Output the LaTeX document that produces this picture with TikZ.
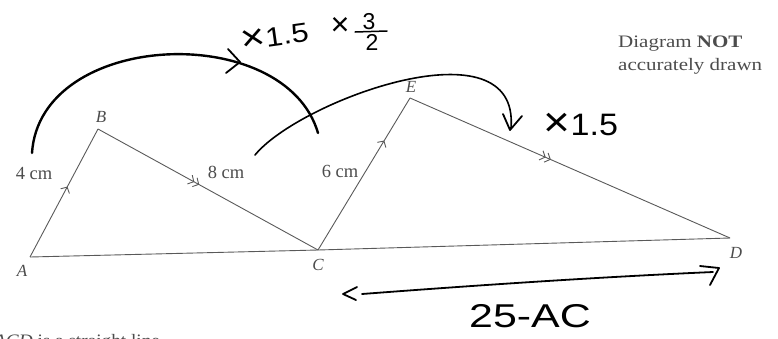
\documentclass[tikz,border=0pt]{standalone}
\usepackage{graphicx}
\usepackage{fontspec}
\setmainfont{Liberation Serif}
\newfontfamily\hand{Liberation Sans}
\usetikzlibrary{decorations.markings,arrows.meta}
\newcommand{\bigtimes}{\raisebox{-0.05em}{\scalebox{1.35}{×}}}
\begin{document}
\begin{tikzpicture}[x=1pt,y=-1pt,
  edge/.style={draw=black!65, line width=0.9pt},
  vlabel/.style={font=\fontsize{17}{17}\selectfont\itshape, text=black!70, inner sep=0pt},
  len/.style={font=\fontsize{18.5}{18.5}\selectfont, text=black!70, inner sep=0pt},
  note/.style={font=\fontsize{17.5}{17.5}\selectfont, text=black!70, inner sep=0pt, anchor=base west},
  hw/.style={font=\hand, inner sep=0pt},
  hwline/.style={draw=black, line width=1.8pt, line cap=round, line join=round},
  onemark/.style={postaction={decorate, decoration={markings,
     mark=at position #1 with {\arrow{Straight Barb[length=4.5pt,width=10pt,line width=0.9pt]}}}}},
  twomark/.style={postaction={decorate, decoration={markings,
     mark=at position #1 with {\arrow{Straight Barb[length=4.5pt,width=10pt,line width=0.9pt] Straight Barb[length=4.5pt,width=10pt,line width=0.9pt]}}}}}
]
\useasboundingbox (0,0) rectangle (778,338);
\clip (0,0) rectangle (778,338);

% vertices
\coordinate (A) at (30,257);
\coordinate (B) at (98,129);
\coordinate (C) at (318,250);
\coordinate (E) at (410,98);
\coordinate (D) at (730,238);

% triangles
\draw[edge] (A) -- (C) -- (D);
\draw[edge, onemark=0.55] (A) -- (B);
\draw[edge, twomark=0.46] (B) -- (C);
\draw[edge, onemark=0.72] (C) -- (E);
\draw[edge, twomark=0.44] (E) -- (D);

% vertex labels
\node[vlabel] (lA) at (22,271) {A};
\node[vlabel] (lB) at (101,117) {B};
\node[vlabel] (lC) at (318,265) {C};
\node[vlabel] (lE) at (411,87) {E};
\node[vlabel] (lD) at (736,253) {D};

% lengths
\node[len] (l4) at (34,173) {4 cm};
\node[len] (l8) at (226,172) {8 cm};
\node[len] (l6) at (340,171) {6 cm};

% note
\node[note] (n1) at (618,47) {\scalebox{1.2}[1]{Diagram \textbf{NOT}}};
\node[note] (n2) at (618,70) {\scalebox{1.2}[1]{accurately drawn}};
\node[note] (n3) at (-6,346) {\scalebox{1.1}[1]{\textit{ACD} is a straight line.}};

% handwritten arc 1
\coordinate (s1) at (32,153);
\coordinate (e1) at (318,133);
\draw[hwline, line width=2.4pt] (s1) .. controls (40,30) and (285,20) .. (e1);
\coordinate (h1a) at (228,49);
\coordinate (h1b) at (240,62);
\coordinate (h1c) at (226,73);
\draw[hwline] (h1a) -- (h1b) -- (h1c);

% handwritten arc 2
\coordinate (s2) at (255,155);
\coordinate (e2) at (511,128);
\draw[hwline, line width=1.6pt] (s2) .. controls (300,100) and (520,20) .. (e2);
\coordinate (h2a) at (503,114);
\coordinate (h2b) at (510,130);
\coordinate (h2c) at (522,116);
\draw[hwline] (h2a) -- (h2b) -- (h2c);

% bottom arrow
\coordinate (b1) at (362,294);
\coordinate (b2) at (713,272);
\draw[hwline] (b1) .. controls (480,285) and (600,277) .. (b2);
\coordinate (l1) at (357,287);
\coordinate (l2) at (343,294);
\coordinate (l3) at (356,300);
\draw[hwline] (l1) -- (l2) -- (l3);
\coordinate (r1) at (700,266);
\coordinate (r2) at (719,268);
\coordinate (r3) at (710,285);
\draw[hwline] (r1) -- (r2) -- (r3);

% handwritten texts
\node[hw, rotate=8, font=\hand\fontsize{27}{27}\selectfont] (t1) at (275,37) {\scalebox{1.15}[1]{\bigtimes 1.5}};
\node[hw, font=\hand\fontsize{24}{24}\selectfont] (t2) at (340,26) {\bigtimes};
\node[hw, font=\hand\fontsize{23}{23}\selectfont] (t3) at (369,22) {3};
\node[hw, font=\hand\fontsize{23}{23}\selectfont] (t4) at (372,42) {2};
\coordinate (f1) at (355,32);
\coordinate (f2) at (387,31);
\draw[hwline, line width=1.5pt] (f1) -- (f2);
\node[hw, font=\hand\fontsize{31}{31}\selectfont] (t5) at (581,125) {\scalebox{1.1}[1]{\bigtimes 1.5}};
\node[hw, font=\hand\fontsize{33}{33}\selectfont] (t6) at (530,316) {\scalebox{1.3}[1]{25-AC}};
\end{tikzpicture}
\end{document}
